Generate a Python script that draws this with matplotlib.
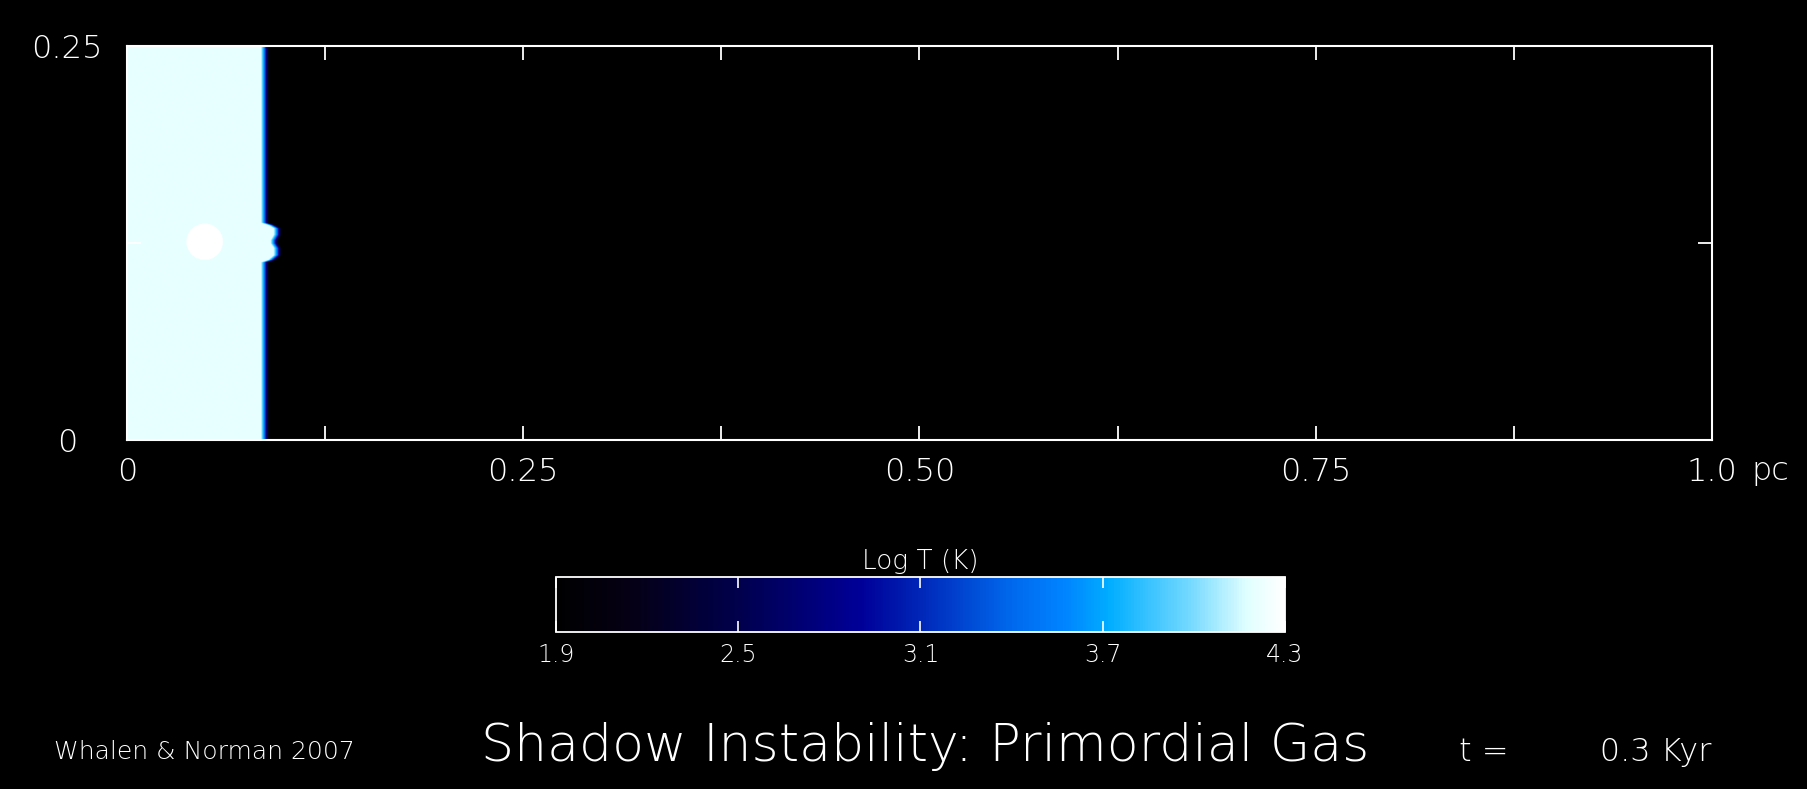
"""Shadow instability snapshot: log temperature slice with H II front."""

import matplotlib

matplotlib.use("Agg")
import matplotlib.pyplot as plt
import numpy as np
from matplotlib.colors import LinearSegmentedColormap

# colour table of the log T map (position along bar, r, g, b)
cmap_pos = [0.0, 0.10, 0.25, 0.42, 0.50, 0.62, 0.70, 0.76, 0.87, 0.95, 1.0]
cmap_r = [0.0, 0.02, 0.0, 0.0, 0.0, 0.0, 0.0, 0.0, 0.45, 0.88, 1.0]
cmap_g = [0.0, 0.0, 0.0, 0.0, 0.15, 0.40, 0.52, 0.68, 0.85, 1.0, 1.0]
cmap_b = [0.0, 0.08, 0.30, 0.60, 0.72, 0.92, 1.0, 1.0, 1.0, 1.0, 1.0]

logT_min, logT_max = 1.9, 4.3
cbar_ticks = [1.9, 2.5, 3.1, 3.7, 4.3]

# temperature of the ionized gas along x (pc, log T)
ion_x = [0.0, 0.018, 0.026, 1.0]
ion_logT = [4.3, 4.3, 4.22, 4.2]

# drop of temperature at the ionization front (distance behind front, log T)
edge_dist = [0.0, 0.0015, 0.003, 0.005]
edge_logT = [1.9, 2.7, 3.6, 4.2]

# front position along y (pc)
front_y = [0.0, 0.1125, 0.1140, 0.1170, 0.1215, 0.1245, 0.1265, 0.1300, 0.1340, 0.1360, 0.1375, 0.25]
front_x = [0.0895, 0.0895, 0.094, 0.0975, 0.0975, 0.0955, 0.0955, 0.0975, 0.0975, 0.094, 0.0895, 0.0895]

# hot clump inside the ionized region
clump_x, clump_y, clump_r = 0.049, 0.1255, 0.0115

x_ticks_major = [0.0, 0.25, 0.5, 0.75, 1.0]
x_tick_labels = ["0", "0.25", "0.50", "0.75", "1.0"]
x_ticks_minor = [0.125, 0.375, 0.625, 0.875]
y_ticks = [0.0, 0.125, 0.25]
y_tick_labels = ["0", "", "0.25"]

colors = list(zip(cmap_pos, zip(cmap_r, cmap_g, cmap_b)))
cmap = LinearSegmentedColormap.from_list("logT", colors)

# build the temperature slice
nx, ny = 2400, 600
xs = (np.arange(nx) + 0.5) / nx
ys = (np.arange(ny) + 0.5) / ny * 0.25
X, Y = np.meshgrid(xs, ys)
fx = np.interp(Y, front_y, front_x)
dist = fx - X
ion = np.interp(X, ion_x, ion_logT)
edge = np.interp(dist, edge_dist, edge_logT)
logT = np.where(dist > 0, np.minimum(ion, edge), logT_min)
rr = np.hypot(X - clump_x, Y - clump_y)
logT = np.where(rr < clump_r, logT_max, logT)

plt.rcParams["font.family"] = ["DejaVu Sans"]
plt.rcParams["font.weight"] = "light"

fig = plt.figure(figsize=(18.08, 7.89), dpi=100, facecolor="black")
ax = fig.add_axes([0.0702, 0.4423, 0.8767, 0.4994])
ax.set_facecolor("black")
im = ax.imshow(
    logT,
    origin="lower",
    extent=[0, 1, 0, 0.25],
    cmap=cmap,
    vmin=logT_min,
    vmax=logT_max,
    aspect="auto",
    interpolation="bilinear",
)
ax.set_xlim(0, 1)
ax.set_ylim(0, 0.25)
for spine in ax.spines.values():
    spine.set_color("white")
    spine.set_linewidth(1.5)

ax.set_xticks(x_ticks_major)
ax.set_xticklabels(x_tick_labels)
ax.set_xticks(x_ticks_minor, minor=True)
ax.set_yticks(y_ticks)
ax.set_yticklabels(y_tick_labels)
ax.tick_params(
    axis="both", which="both", direction="in", length=10, width=1.3,
    color="white", labelcolor="white", labelsize=23,
    top=True, right=True,
)
ax.tick_params(axis="x", pad=12)
ax.tick_params(axis="y", pad=43)
for lab in ax.get_yticklabels():
    lab.set_horizontalalignment("center")
ax.text(1.025, -0.079, "pc", transform=ax.transAxes, color="white",
        fontsize=23, ha="left", va="center")

cax = fig.add_axes([0.3075, 0.199, 0.4032, 0.0697])
cb = fig.colorbar(im, cax=cax, orientation="horizontal", ticks=cbar_ticks)
cb.outline.set_edgecolor("white")
cb.outline.set_linewidth(1.3)
cax.tick_params(direction="in", length=8, width=1.2, color="white",
                labelcolor="white", labelsize=17, top=True, pad=8)
cax.set_xticklabels([f"{v:.1f}" for v in cbar_ticks])
cax.set_title("Log T (K)", color="white", fontsize=19, pad=6,
              fontweight="light")

fig.text(0.0299, 0.047, "Whalen & Norman 2007", color="white", fontsize=18,
         ha="left", va="center")
fig.text(0.5115, 0.053, "Shadow Instability: Primordial Gas", color="white",
         fontsize=37.5, ha="center", va="center")
fig.text(0.807, 0.047, "t =         0.3 Kyr", color="white", fontsize=23,
         ha="left", va="center")

fig.savefig("out.png", dpi=100, facecolor="black")
